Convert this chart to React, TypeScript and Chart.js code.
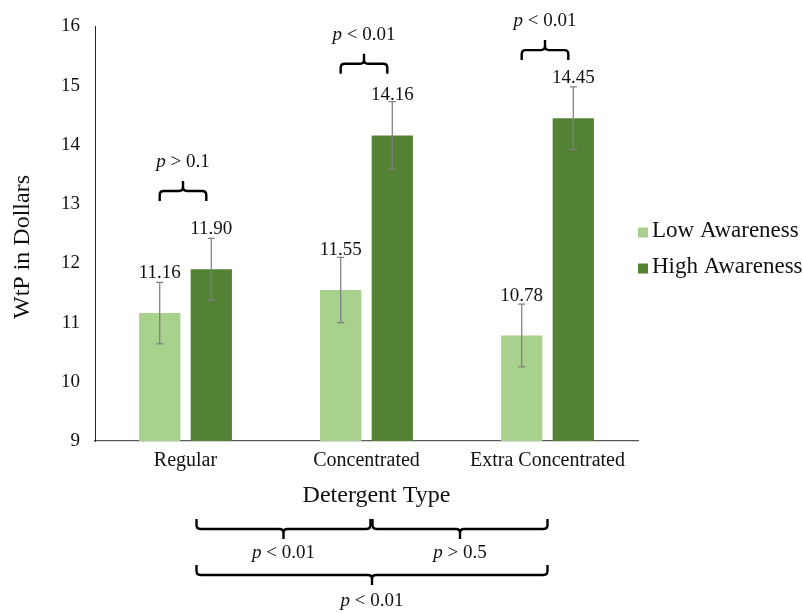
import React, { useEffect, useRef } from 'react';
import { Chart, registerables } from 'chart.js';

Chart.register(...registerables);

const FONT = '"Liberation Serif", "Times New Roman", serif';

const categories = ['Regular', 'Concentrated', 'Extra Concentrated'];
const seriesNames = ['Low Awareness', 'High Awareness'];
const lowAwareness = [11.16, 11.55, 10.78];
const highAwareness = [11.9, 14.16, 14.45];
const lowError = [0.52, 0.55, 0.53];
const highError = [0.52, 0.57, 0.53];
const yMin = 9;
const yMax = 16;
const yStep = 1;
const withinTests = ['> 0.1', '< 0.01', '< 0.01'];
const withinBraceLevels = [13.22, 15.37, 15.6];
const betweenFrom = [0, 1, 0];
const betweenTo = [1, 2, 2];
const betweenTests = ['< 0.01', '> 0.5', '< 0.01'];

const COLORS = ['#A9D18E', '#548235'];

function drawBrace(ctx: CanvasRenderingContext2D, x1: number, x2: number, y: number, d: number) {
  const m = (x1 + x2) / 2;
  const r = 4;
  const e = 10;
  ctx.beginPath();
  ctx.moveTo(x1, y - d * e);
  ctx.lineTo(x1, y - d * r);
  ctx.quadraticCurveTo(x1, y, x1 + r, y);
  ctx.lineTo(m - r, y);
  ctx.quadraticCurveTo(m, y, m, y + d * r);
  ctx.lineTo(m, y + d * e);
  ctx.moveTo(m, y + d * r);
  ctx.quadraticCurveTo(m, y, m + r, y);
  ctx.lineTo(x2 - r, y);
  ctx.quadraticCurveTo(x2, y, x2, y - d * r);
  ctx.lineTo(x2, y - d * e);
  ctx.stroke();
}

function drawPText(ctx: CanvasRenderingContext2D, rest: string, cx: number, cy: number, size: number) {
  ctx.font = `italic ${size}px ${FONT}`;
  const pw = ctx.measureText('p').width;
  ctx.font = `${size}px ${FONT}`;
  const rw = ctx.measureText(' ' + rest).width;
  const x0 = cx - (pw + rw) / 2;
  ctx.textAlign = 'left';
  ctx.textBaseline = 'middle';
  ctx.font = `italic ${size}px ${FONT}`;
  ctx.fillText('p', x0, cy);
  ctx.font = `${size}px ${FONT}`;
  ctx.fillText(' ' + rest, x0 + pw, cy);
}

const annotPlugin = {
  id: 'annot',
  afterDatasetsDraw(chart: any) {
    const ctx: CanvasRenderingContext2D = chart.ctx;
    const yS = chart.scales.y;
    const xS = chart.scales.x;
    const area = chart.chartArea;
    const errs = [lowError, highError];
    ctx.save();
    // error bars + value labels
    chart.data.datasets.forEach((ds: any, di: number) => {
      const meta = chart.getDatasetMeta(di);
      meta.data.forEach((bar: any, i: number) => {
        const v = ds.data[i];
        const e = errs[di][i];
        const yt = yS.getPixelForValue(v + e);
        const yb = yS.getPixelForValue(v - e);
        ctx.strokeStyle = '#7F7F7F';
        ctx.lineWidth = 1.25;
        ctx.beginPath();
        ctx.moveTo(bar.x, yt);
        ctx.lineTo(bar.x, yb);
        ctx.moveTo(bar.x - 3.5, yt);
        ctx.lineTo(bar.x + 3.5, yt);
        ctx.moveTo(bar.x - 3.5, yb);
        ctx.lineTo(bar.x + 3.5, yb);
        ctx.stroke();
        ctx.fillStyle = '#111';
        ctx.font = `19px ${FONT}`;
        ctx.textAlign = 'center';
        ctx.textBaseline = 'middle';
        ctx.fillText(v.toFixed(2), bar.x, bar.y - 40);
      });
    });
    // within-category braces
    const m0 = chart.getDatasetMeta(0);
    const m1 = chart.getDatasetMeta(1);
    ctx.strokeStyle = '#000';
    ctx.lineWidth = 2.4;
    ctx.fillStyle = '#111';
    categories.forEach((_c, i) => {
      const x1 = m0.data[i].x;
      const x2 = m1.data[i].x - 5;
      const y = yS.getPixelForValue(withinBraceLevels[i]);
      drawBrace(ctx, x1, x2, y, -1);
      drawPText(ctx, withinTests[i], (x1 + x2) / 2, y - 29, 19);
    });
    // between-category braces
    const levels = [88, 88, 134];
    const startOff = [11, 6, 11];
    const endOff = [4, 0, 0];
    const textOff = [24, 24, 26];
    betweenTests.forEach((t, k) => {
      const x1 = xS.getPixelForValue(betweenFrom[k]) + startOff[k];
      const x2 = xS.getPixelForValue(betweenTo[k]) + endOff[k];
      const y = area.bottom + levels[k];
      drawBrace(ctx, x1, x2, y, 1);
      drawPText(ctx, t, (x1 + x2) / 2, y + textOff[k], 19);
    });
    // axis titles
    ctx.fillStyle = '#111';
    ctx.font = `24px ${FONT}`;
    ctx.textAlign = 'center';
    ctx.textBaseline = 'middle';
    ctx.fillText('Detergent Type', (area.left + area.right) / 2 + 10, area.bottom + 55);
    ctx.save();
    ctx.translate(23, 247);
    ctx.rotate(-Math.PI / 2);
    ctx.fillText('WtP in Dollars', 0, 0);
    ctx.restore();
    // legend
    chart.data.datasets.forEach((ds: any, di: number) => {
      const base = 237 + di * 36;
      ctx.fillStyle = ds.backgroundColor;
      ctx.fillRect(area.right, base - 9.5, 10, 10);
      ctx.fillStyle = '#111';
      ctx.font = `23px ${FONT}`;
      ctx.textAlign = 'left';
      ctx.textBaseline = 'alphabetic';
      ctx.fillText(ds.label, area.right + 14, base);
    });
    ctx.restore();
  },
};

export default function App() {
  const ref = useRef<HTMLCanvasElement>(null);
  useEffect(() => {
    document.body.style.margin = '0';
    const canvas = ref.current;
    if (!canvas) return;
    const chart = new Chart(canvas, {
      type: 'bar',
      data: {
        labels: categories,
        datasets: [
          {
            label: seriesNames[0],
            data: lowAwareness,
            backgroundColor: COLORS[0],
            barPercentage: 0.8,
            categoryPercentage: 0.57,
          },
          {
            label: seriesNames[1],
            data: highAwareness,
            backgroundColor: COLORS[1],
            barPercentage: 0.8,
            categoryPercentage: 0.57,
          },
        ],
      },
      options: {
        responsive: false,
        animation: false,
        layout: { padding: { left: 0, top: 23, right: 165, bottom: 0 } },
        plugins: { legend: { display: false }, tooltip: { enabled: false } },
        scales: {
          x: {
            grid: { display: false, drawTicks: false },
            border: { display: true, color: '#595959', width: 1.25 },
            ticks: { color: '#111', font: { family: FONT, size: 20 }, padding: 8, maxRotation: 0, autoSkip: false },
            afterFit: (s: any) => {
              s.height = 172;
            },
          },
          y: {
            min: yMin,
            max: yMax,
            grid: { display: false, drawTicks: false },
            border: { display: true, color: '#222', width: 1 },
            ticks: { stepSize: yStep, color: '#111', font: { family: FONT, size: 19 }, padding: 15 },
            afterFit: (s: any) => {
              s.width = 95;
            },
          },
        },
      },
      plugins: [annotPlugin],
    } as any);
    return () => chart.destroy();
  }, []);
  return <canvas ref={ref} width={803} height={613} style={{ display: 'block' }} />;
}
